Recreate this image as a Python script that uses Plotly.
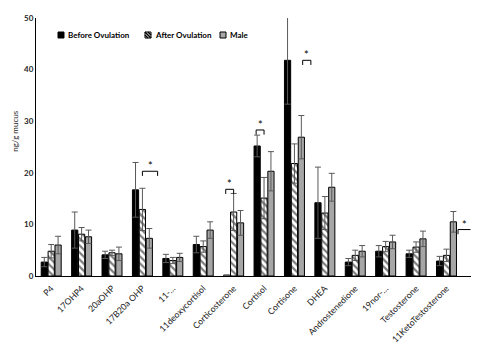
import plotly.graph_objects as go

categories = ["P4", "17OHP4", "20aOHP", "17B20a OHP", "11-…", "11deoxycortisol",
              "Corticosterone", "Cortisol", "Cortisone", "DHEA", "Androstenedione",
              "19nor-…", "Testosterone", "11KetoTestosterone"]
before = [2.7, 8.9, 4.1, 16.7, 3.4, 6.1, 0.15, 25.2, 41.8, 14.2, 2.7, 4.8, 4.3, 2.9]
before_err = [0.9, 3.5, 0.7, 5.3, 0.8, 1.6, 0.0, 2.1, 8.5, 6.9, 0.7, 1.1, 0.7, 0.9]
after = [4.8, 8.1, 4.5, 12.9, 3.0, 5.7, 12.4, 15.1, 21.8, 12.2, 4.0, 5.7, 5.6, 4.0]
after_err = [1.3, 1.3, 0.5, 4.1, 0.6, 1.1, 3.6, 4.0, 3.8, 3.2, 1.0, 1.0, 1.0, 1.2]
male = [6.0, 7.6, 4.3, 7.3, 3.6, 8.9, 10.3, 20.3, 26.9, 17.2, 4.8, 6.6, 7.2, 10.5]
male_err = [1.7, 1.3, 1.3, 1.9, 0.8, 1.6, 2.4, 3.8, 4.2, 2.7, 1.1, 1.3, 1.5, 2.0]
series_names = ["Before Ovulation", "After Ovulation", "Male"]

# significance brackets: category, height (ng/g)
sig_cats = ["17B20a OHP", "Corticosterone", "Cortisol", "Cortisone", "11KetoTestosterone"]
sig_heights = [20.3, 16.8, 28.3, 41.8, 9.0]
# bracket horizontal extent relative to category centre (category units), and legs
sig_spans = [(0.0, 0.5), (-0.26, 0.0), (-0.26, 0.0), (0.27, 0.54), (0.38, 0.79)]
sig_right_leg = [True, True, True, True, False]

FONT = "Lato, 'Open Sans', sans-serif"
ERRC = "#595959"

def err(vals):
    return dict(type="data", array=vals, visible=True, color=ERRC, thickness=1, width=3)

fig = go.Figure()
fig.add_trace(go.Bar(name=series_names[0], x=categories, y=before, error_y=err(before_err),
                     marker=dict(color="black", line=dict(color="black", width=1))))
fig.add_trace(go.Bar(name=series_names[1], x=categories, y=after, error_y=err(after_err),
                     marker=dict(color="white", line=dict(color="black", width=1),
                                 pattern=dict(shape="\\", fgcolor="black", bgcolor="white",
                                              size=5, solidity=0.45, fillmode="overlay"))))
fig.add_trace(go.Bar(name=series_names[2], x=categories, y=male, error_y=err(male_err),
                     marker=dict(color="#a6a6a6", line=dict(color="black", width=1))))

leg = 0.9  # leg drop in data units
for cat, h, (a, b), rl in zip(sig_cats, sig_heights, sig_spans, sig_right_leg):
    i = categories.index(cat)
    x0, x1 = i + a, i + b
    path = f"M {x0},{h - leg} L {x0},{h} L {x1},{h}"
    if rl:
        path += f" L {x1},{h - leg}"
    fig.add_shape(type="path", path=path, xref="x", yref="y",
                  line=dict(color="black", width=1))
    fig.add_annotation(x=(x0 + x1) / 2, y=h, text="*", showarrow=False, xref="x", yref="y",
                       yanchor="bottom", yshift=-3, font=dict(family=FONT, size=11, color="black"))

# custom legend (small square swatches like the original)
PW, PH = 435.0, 258.0   # plot area size in px
def px_x(p):
    return (p - 36) / PW
def px_y(p):
    return (276 - p) / PH

leg_x = [58, 145, 220]
leg_fill = ["black", "white", "#a6a6a6"]
ly0, ly1 = 32, 38
for name, lx, fc in zip(series_names, leg_x, leg_fill):
    fig.add_shape(type="rect", xref="paper", yref="paper",
                  x0=px_x(lx), x1=px_x(lx + 6), y0=px_y(ly1), y1=px_y(ly0),
                  fillcolor=fc, line=dict(color="black", width=1))
    fig.add_annotation(text=f"<b>{name}</b>", xref="paper", yref="paper",
                       x=px_x(lx + 7.5), y=px_y(35), xanchor="left", yanchor="middle",
                       showarrow=False, font=dict(family=FONT, size=8, color="black"))
# hatch lines for the "After Ovulation" swatch
hx = leg_x[1]
for d in [0, 3]:
    fig.add_shape(type="line", xref="paper", yref="paper",
                  x0=px_x(hx + d), y0=px_y(ly0), x1=px_x(hx + 6), y1=px_y(ly1 - d),
                  line=dict(color="black", width=1.5))
fig.add_shape(type="line", xref="paper", yref="paper",
              x0=px_x(hx), y0=px_y(ly0 + 3), x1=px_x(hx + 3), y1=px_y(ly1),
              line=dict(color="black", width=1.5))

fig.add_annotation(text="ng/g mucus", x=-0.05, y=0.56, xref="paper", yref="paper",
                   textangle=-90, showarrow=False, xanchor="center", yanchor="middle",
                   font=dict(family=FONT, size=8, color="#262626"))

fig.update_layout(
    width=486, height=347,
    margin=dict(l=36, r=15, t=18, b=71),
    paper_bgcolor="white", plot_bgcolor="white",
    barmode="group", bargap=0.32, bargroupgap=0.1,
    font=dict(family=FONT, size=8, color="#262626"),
    showlegend=False,
    xaxis=dict(showline=True, linecolor="black", linewidth=1, ticks="", tickangle=-45,
               ticklabelstandoff=3, automargin=False,
               tickfont=dict(family=FONT, size=8.7, color="#1a1a1a"), showgrid=False),
    yaxis=dict(range=[0, 50], dtick=10, showline=True, linecolor="black", linewidth=1,
               ticks="", showgrid=False, zeroline=False, automargin=False,
               tickfont=dict(family=FONT, size=8, color="#262626", weight="bold")),
)

fig.write_html("out.html")
